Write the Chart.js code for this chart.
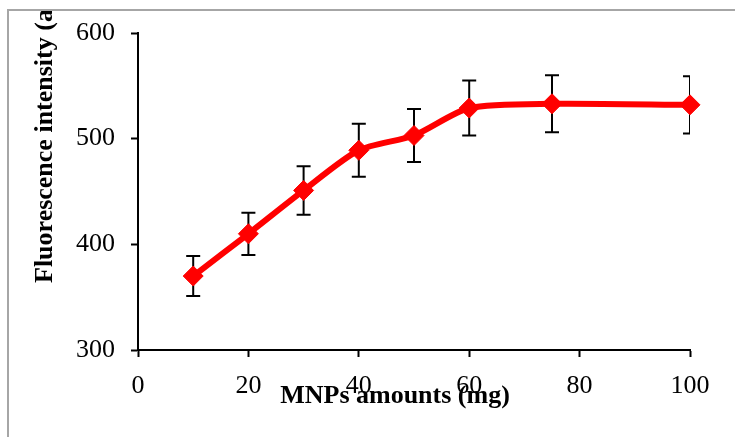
<!DOCTYPE html>
<html><head><meta charset="utf-8">
<script src="https://cdn.jsdelivr.net/npm/chart.js@4.4.1/dist/chart.umd.min.js"></script>
<style>html,body{margin:0;padding:0;background:#fff;}canvas{display:block;}</style>
</head><body>
<canvas id="c" width="735" height="437"></canvas>
<script>
const amounts = [10, 20, 30, 40, 50, 60, 75, 100];
const intensity = [370, 410, 451, 489, 503, 529, 533, 532];
const errors = [19, 20, 23, 25, 25, 26, 27, 27];
const xTicks = [0, 20, 40, 60, 80, 100];
const yTicks = [300, 400, 500, 600];
const xTitle = 'MNPs amounts (mg)';
const yTitle = 'Fluorescence intensity (a.u.)';

const FONT = "'Liberation Serif', 'Times New Roman', serif";

const errorBarPlugin = {
  id: 'errorBars',
  beforeDatasetsDraw(chart) {
    const ctx = chart.ctx, xs = chart.scales.x, ys = chart.scales.y, a = chart.chartArea;
    ctx.save();
    ctx.beginPath();
    ctx.rect(a.left - 20, a.top - 20, a.right - a.left + 20, a.bottom - a.top + 40);
    ctx.clip();
    ctx.strokeStyle = '#000';
    ctx.lineWidth = 2;
    amounts.forEach((xv, i) => {
      const px = xs.getPixelForValue(xv);
      const top = ys.getPixelForValue(intensity[i] + errors[i]);
      const bot = ys.getPixelForValue(intensity[i] - errors[i]);
      ctx.beginPath();
      ctx.moveTo(px, top); ctx.lineTo(px, bot);
      ctx.moveTo(px - 7, top); ctx.lineTo(px + 7, top);
      ctx.moveTo(px - 7, bot); ctx.lineTo(px + 7, bot);
      ctx.stroke();
    });
    ctx.restore();
  }
};

const decoPlugin = {
  id: 'deco',
  afterDraw(chart) {
    const ctx = chart.ctx;
    ctx.save();
    ctx.strokeStyle = '#a6a6a6';
    ctx.lineWidth = 2;
    ctx.beginPath();
    ctx.moveTo(8, 437); ctx.lineTo(8, 10); ctx.lineTo(735, 10);
    ctx.stroke();
    ctx.fillStyle = '#000';
    ctx.font = "bold 26px " + FONT;
    ctx.textAlign = 'center';
    ctx.textBaseline = 'alphabetic';
    ctx.fillText(xTitle, 395, 403);
    ctx.save();
    ctx.beginPath();
    ctx.rect(9, 11, 120, 426);
    ctx.clip();
    ctx.translate(52, 283);
    ctx.rotate(-Math.PI / 2);
    ctx.textAlign = 'left';
    ctx.textBaseline = 'alphabetic';
    ctx.fillText(yTitle, 0, 0);
    ctx.restore();
    ctx.restore();
  }
};

new Chart(document.getElementById('c'), {
  type: 'line',
  data: {
    datasets: [{
      data: amounts.map((x, i) => ({ x: x, y: intensity[i] })),
      borderColor: '#ff0000',
      backgroundColor: '#ff0000',
      borderWidth: 6,
      tension: 0.25,
      pointStyle: 'rectRot',
      pointRadius: 10,
      pointBorderWidth: 1,
      pointBackgroundColor: '#ff0000',
      pointBorderColor: '#ff0000',
      clip: false
    }]
  },
  options: {
    responsive: false,
    animation: false,
    devicePixelRatio: 1,
    layout: { padding: { left: 0, top: 33, right: 45, bottom: 0 } },
    plugins: { legend: { display: false }, tooltip: { enabled: false } },
    scales: {
      x: {
        type: 'linear', min: 0, max: 100,
        afterBuildTicks: s => { s.ticks = xTicks.map(v => ({ value: v })); },
        afterFit: s => { s.height = 87; },
        grid: { drawOnChartArea: false, drawTicks: true, tickLength: 7, tickColor: '#000', tickWidth: 2 },
        border: { display: true, color: '#000', width: 2 },
        ticks: { color: '#000', font: { family: FONT, size: 26 }, padding: 14, maxRotation: 0 }
      },
      y: {
        type: 'linear', min: 300, max: 600,
        afterBuildTicks: s => { s.ticks = yTicks.map(v => ({ value: v })); },
        afterFit: s => { s.width = 138; },
        grid: { drawOnChartArea: false, drawTicks: true, tickLength: 7, tickColor: '#000', tickWidth: 2 },
        border: { display: true, color: '#000', width: 2 },
        ticks: { color: '#000', font: { family: FONT, size: 26 }, padding: 16 }
      }
    }
  },
  plugins: [errorBarPlugin, decoPlugin]
});
</script>
</body></html>
